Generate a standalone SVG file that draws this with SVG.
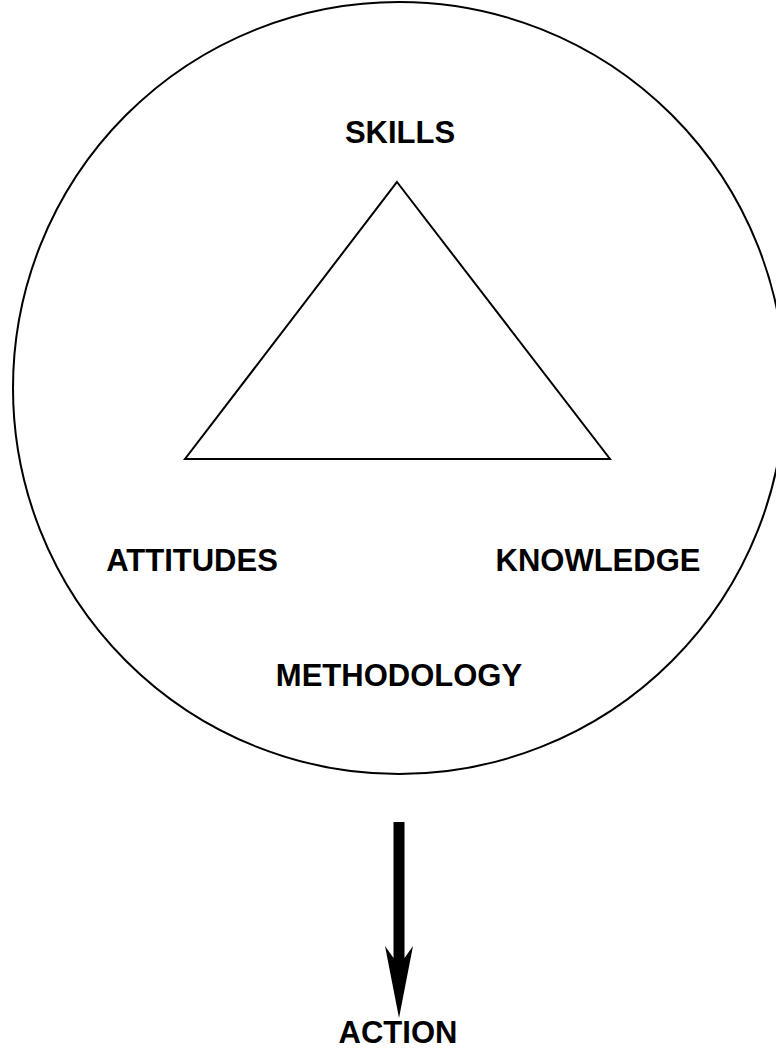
<svg xmlns="http://www.w3.org/2000/svg" width="776" height="1059" viewBox="0 0 776 1059">
  <style>
    .outline { fill: none; stroke: #000; stroke-width: 2; }
    .label { font-family: "Liberation Sans", Arial, sans-serif; font-weight: bold; font-size: 31px; fill: #000; text-anchor: middle; }
  </style>
  <rect x="0" y="0" width="776" height="1059" fill="#fff"/>
  <g id="methodology">
    <ellipse class="outline" cx="399" cy="388" rx="386" ry="386"/>
    <text class="label" x="399" y="686">METHODOLOGY</text>
  </g>
  <g id="triangle">
    <polygon class="outline" points="397,182 610,459 185,459" stroke-linejoin="miter"/>
  </g>
  <g id="skills">
    <text class="label" x="400" y="143">SKILLS</text>
  </g>
  <g id="attitudes">
    <text class="label" x="192" y="571">ATTITUDES</text>
  </g>
  <g id="knowledge">
    <text class="label" x="598" y="571">KNOWLEDGE</text>
  </g>
  <g id="connectors">
    <polygon points="393.5,822 404.5,822 404.5,958 413,946 399,1018 385,946 393.5,958" fill="#000"/>
  </g>
  <g id="action">
    <text class="label" x="398" y="1043">ACTION</text>
  </g>
</svg>
